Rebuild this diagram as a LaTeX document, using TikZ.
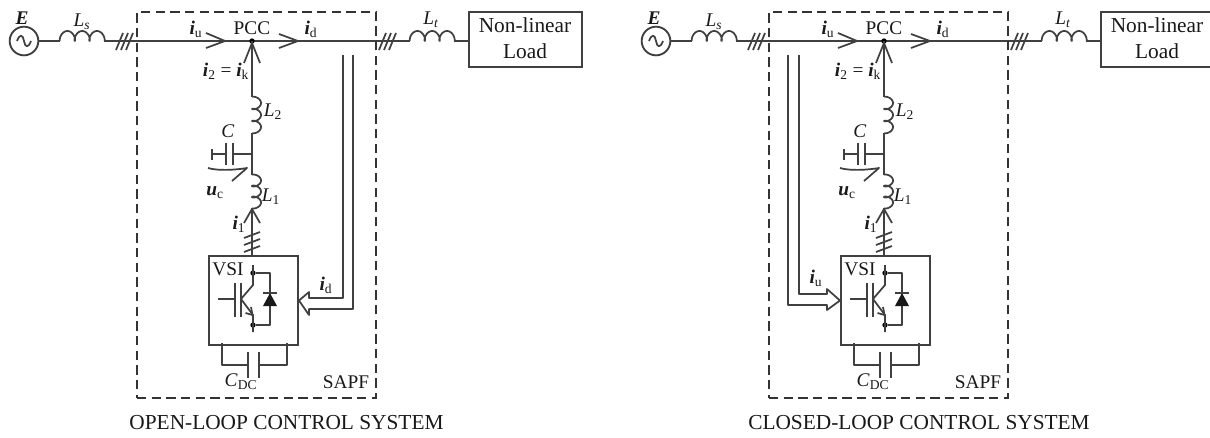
\documentclass[tikz,border=0pt]{standalone}
\usepackage{fontspec}
\setmainfont{Liberation Serif}
\newcommand{\bi}[1]{\textbf{\textit{#1}}}
\begin{document}
\begin{tikzpicture}[x=0.75pt,y=-0.75pt,
  wire/.style={draw=black!75,line width=1.3pt,line join=round},
  dashbox/.style={draw=black!80,line width=1.4pt,dash pattern=on 7pt off 4pt},
  box/.style={draw=black!75,line width=1.5pt,rectangle,inner sep=0pt},
  lbl/.style={font=\fontsize{14.5}{16}\selectfont,inner sep=0pt,text=black!90},
  loadlbl/.style={font=\fontsize{16}{19.5}\selectfont,inner sep=0pt,text=black!90},
  captiontext/.style={font=\fontsize{16}{18}\selectfont,inner sep=0pt,text=black!90},
  dotn/.style={circle,fill=black,inner sep=0pt,minimum size=4pt}]
\newcommand{\hcoil}[2]{\draw[wire] plot[domain=0:1080,samples=100,variable=\t,smooth] ({#1+14.8*\t/360-3*sin(\t)},{#2-5*(1-cos(\t))});}
\newcommand{\vcoil}[3]{\draw[wire] plot[domain=0:1080,samples=100,variable=\t,smooth] ({#1+4.5*(1-cos(\t))},{#2+#3*\t/360-2.6*sin(\t)});}
\newcommand{\barbs}[3]{\draw[wire] (#1,#2) ++(-8,#3) -- (#1,#2) -- ++(8,#3);}
\newcommand{\ticks}[2]{\draw[wire] (#1-5,#2+9) -- (#1+2,#2-8) (#1,#2+9) -- (#1+7,#2-8) (#1+5,#2+9) -- (#1+12,#2-8);}
\newcommand{\vticks}[2]{\draw[wire] (#1-8,#2+4) -- (#1+8,#2-2) (#1-8,#2+11) -- (#1+8,#2+5) (#1-8,#2+18) -- (#1+8,#2+12);}
\newcommand{\panel}[3]{%
\begin{scope}[shift={(#1,0)},name prefix=#2-]
  \node[circle,draw=black!75,line width=1.4pt,minimum size=21.5pt,inner sep=0pt] (src) at (24,41) {};
  \draw[wire] (17,41) .. controls (20,33) and (23,35) .. (24,41) .. controls (25,47) and (28,49) .. (31,41);
  \node[lbl] (E) at (22,18) {\bi{E}};
  \coordinate (lsa) at (60,41); \coordinate (lsb) at (104.4,41);
  \coordinate (la) at (410,41); \coordinate (lb) at (454.4,41);
  \node[box,minimum width=84.75pt,minimum height=41.25pt,anchor=north west] (load) at (468,11) {};
  \node[loadlbl,align=center] (loadt) at (525,38) {Non-linear\\Load};
  \coordinate (pcc) at (252,41);
  \draw[wire] (src.east) -- (lsa);
  \hcoil{60}{41}
  \draw[wire] (lsb) -- (pcc) -- (la);
  \hcoil{410}{41}
  \draw[wire] (lb) -- (lb -| load.west);
  \ticks{121}{41}
  \ticks{384}{41}
  \node[lbl] (Ls) at (82,22) {\textit{L}\textsubscript{\textit{s}}};
  \node[lbl] (Lr) at (431,20) {\textit{L}\textsubscript{\textit{t}}};
  \node[dotn] (pccd) at (pcc) {};
  \node[lbl] (pcct) at (252,28) {PCC};
  \draw[wire] (206,33) -- (225,41) -- (206,48);
  \draw[wire] (279,34) -- (298,41) -- (279,48);
  \node[lbl] (iu) at (196,29) {\bi{i}\textsubscript{u}};
  \node[lbl] (id) at (311,29) {\bi{i}\textsubscript{d}};
  \node[lbl] (i2) at (226,71) {\bi{i}\textsubscript{2} = \bi{i}\textsubscript{k}};
  \coordinate (l2a) at (252,97); \coordinate (l2b) at (252,133);
  \coordinate (l1a) at (252,175); \coordinate (l1b) at (252,208);
  \coordinate (capj) at (252,154);
  \draw[wire] (pcc) -- (l2a);
  \barbs{252}{43}{20}
  \vcoil{252}{97}{12}
  \draw[wire] (l2b) -- (l1a);
  \vcoil{252}{175}{11}
  \node[box,minimum size=66.75pt,anchor=north west] (vsi) at (208,255) {};
  \draw[wire] (l1b) -- (vsi.north -| l1b);
  \barbs{252}{209}{14}
  \vticks{252}{234}
  \node[lbl] (L2) at (273,112) {\textit{L}\textsubscript{2}};
  \node[lbl] (L1) at (271,197) {\textit{L}\textsubscript{1}};
  \node[lbl] (i1) at (239,224) {\bi{i}\textsubscript{1}};
  \coordinate (cpa) at (233,154); \coordinate (cpb) at (226,154); \coordinate (cgnd) at (212,154);
  \draw[wire] (capj) -- (cpa);
  \draw[wire] (233,143) -- (233,165);
  \draw[wire] (226,143) -- (226,165);
  \draw[wire] (cpb) -- (cgnd);
  \draw[wire] (212,149) -- (212,160);
  \node[lbl] (C) at (228,131) {\textit{C}};
  \draw[wire] (208,168) .. controls (218,171) and (235,170) .. (247,168) -- (232,181);
  \node[lbl] (uc) at (215,193) {\bi{u}\textsubscript{c}};
  \node[lbl] (vsit) at (228,269) {VSI};
  \node[dotn] (d1) at (253,273) {};
  \node[dotn] (d2) at (253,325) {};
  \draw[wire] (218,299) -- (235,299);
  \draw[wire] (235,283) -- (235,317) (241,283) -- (241,317);
  \draw[wire] (253,265) -- (253,285) -- (241,299) -- (253,315) -- (253,332);
  \draw[wire] (245.5,313) -- (252.5,315) -- (251,307);
  \draw[wire] (d1) -- (270,273) -- (270,325) -- (d2);
  \fill[black!90] (270,293) -- (277,306) -- (263,306) -- cycle;
  \draw[wire] (263,293) -- (277,293);
  \draw[wire] (222,343) -- (222,365) -- (248,365);
  \draw[wire] (248,352) -- (248,378) (259,352) -- (259,378);
  \draw[wire] (259,365) -- (287,365) -- (287,343);
  \node[lbl] (cdc) at (241,382) {\textit{C}\textsubscript{DC}};
  \node[lbl] (sapf) at (346,382) {SAPF};
  \node[dashbox,rectangle,minimum width=179.25pt,minimum height=289.5pt,anchor=north west,inner sep=0pt] (frame) at (136,11) {};
  #3
\end{scope}}
\useasboundingbox (0,0) rectangle (1210,437);
\fill[white] (0,0) rectangle (1210,437);
\panel{0}{a}{%
  \draw[wire] (343,55) -- (343,298) -- (309,298) -- (309,292) -- (vsi.east) -- (309,315) -- (309,309) -- (353,309) -- (353,55);
  \node[lbl] (fb) at (326,285) {\bi{i}\textsubscript{d}};
}
\panel{632}{b}{%
  \draw[wire] (167,55) -- (167,294) -- (195,294) -- (195,289) -- (vsi.west) -- (195,310) -- (195,305) -- (156,305) -- (156,55);
  \node[lbl] (fb) at (184,278) {\bi{i}\textsubscript{u}};
}
\node[captiontext] (capl) at (286.5,423) {OPEN-LOOP CONTROL SYSTEM};
\node[captiontext] (capr) at (919,423) {CLOSED-LOOP CONTROL SYSTEM};
\end{tikzpicture}
\end{document}
